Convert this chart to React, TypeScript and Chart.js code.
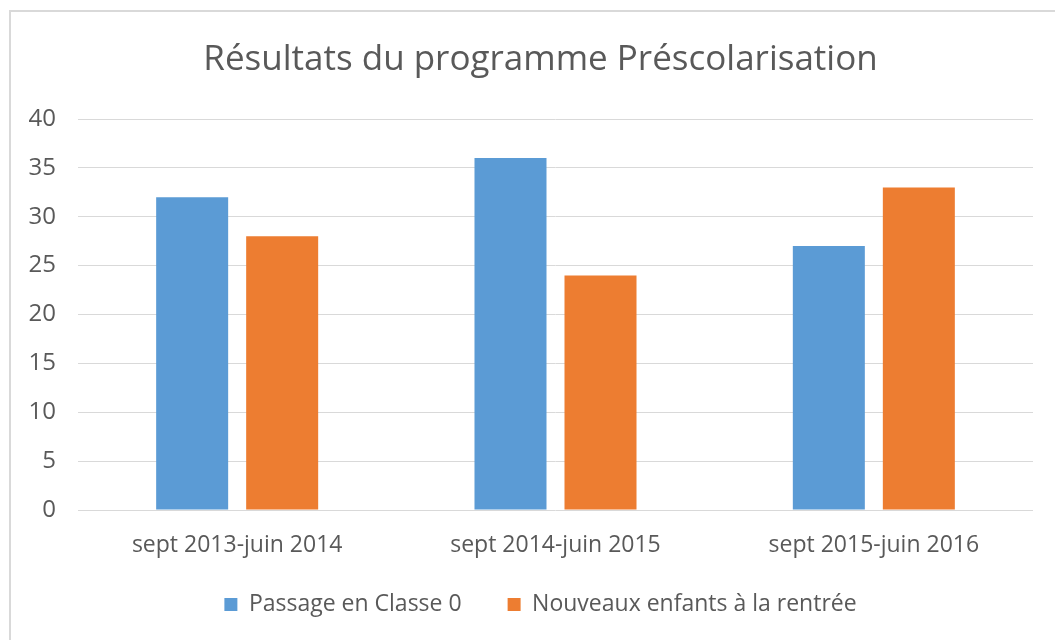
import React, { useEffect, useRef } from "react";
import { Chart, registerables } from "chart.js";

Chart.register(...registerables);

const titleText = "Résultats du programme Préscolarisation";
const categories = ["sept 2013-juin 2014", "sept 2014-juin 2015", "sept 2015-juin 2016"];
const seriesNames = ["Passage en Classe 0", "Nouveaux enfants à la rentrée"];
const passageValues = [32, 36, 27];
const nouveauxValues = [28, 24, 33];
const yMin = 0;
const yMax = 40;
const yStep = 5;

const FONT = "'Open Sans', sans-serif";
const TEXT = "#595959";
const PAD_LEFT = 48;

export default function App() {
  const ref = useRef<HTMLCanvasElement | null>(null);
  useEffect(() => {
    if (!ref.current) return;
    const chart = new Chart(ref.current, {
      type: "bar",
      data: {
        labels: categories,
        datasets: [
          {
            label: seriesNames[0],
            data: passageValues,
            backgroundColor: "#5B9BD5",
            categoryPercentage: 0.5655,
            barPercentage: 0.8,
          },
          {
            label: seriesNames[1],
            data: nouveauxValues,
            backgroundColor: "#ED7D31",
            categoryPercentage: 0.5655,
            barPercentage: 0.8,
          },
        ],
      },
      options: {
        animation: false,
        responsive: false,
        devicePixelRatio: 1,
        layout: { padding: { left: PAD_LEFT, right: 22, top: 0, bottom: 14 } },
        plugins: {
          tooltip: { enabled: false },
          title: {
            display: true,
            text: titleText,
            color: TEXT,
            font: { family: FONT, size: 35, weight: "normal" },
            padding: { top: 39, bottom: 38 },
          },
          legend: {
            display: true,
            position: "bottom",
            labels: {
              color: TEXT,
              font: { family: FONT, size: 23 },
              boxWidth: 13,
              boxHeight: 13,
              padding: 46,
            },
          },
        },
        scales: {
          x: {
            grid: { display: false, drawTicks: false },
            border: { display: false },
            ticks: { color: TEXT, font: { family: FONT, size: 23 }, padding: 22, maxRotation: 0 },
            afterFit: (s: any) => {
              s.height = 37;
              s._computeLabelArea = () => undefined;
            },
          },
          y: {
            min: yMin,
            max: yMax,
            grid: { color: "#D9D9D9", lineWidth: 1, drawTicks: false },
            border: { display: false },
            ticks: {
              stepSize: yStep,
              color: TEXT,
              font: { family: FONT, size: 24 },
              padding: 22,
            },
            afterFit: (s: any) => {
              s.width = 78 - PAD_LEFT;
              s._computeLabelArea = () => undefined;
            },
          },
        },
      },
    });
    return () => chart.destroy();
  }, []);
  return (
    <div style={{ position: "fixed", left: 0, top: 0, width: 1055, height: 640, overflow: "hidden", background: "#fff" }}>
      <div
        style={{
          position: "absolute",
          left: 9,
          top: 10,
          width: 1100,
          height: 700,
          border: "2px solid #D9D9D9",
          boxSizing: "border-box",
        }}
      />
      <canvas ref={ref} width={1055} height={640} style={{ position: "absolute", left: 0, top: 0 }} />
    </div>
  );
}
